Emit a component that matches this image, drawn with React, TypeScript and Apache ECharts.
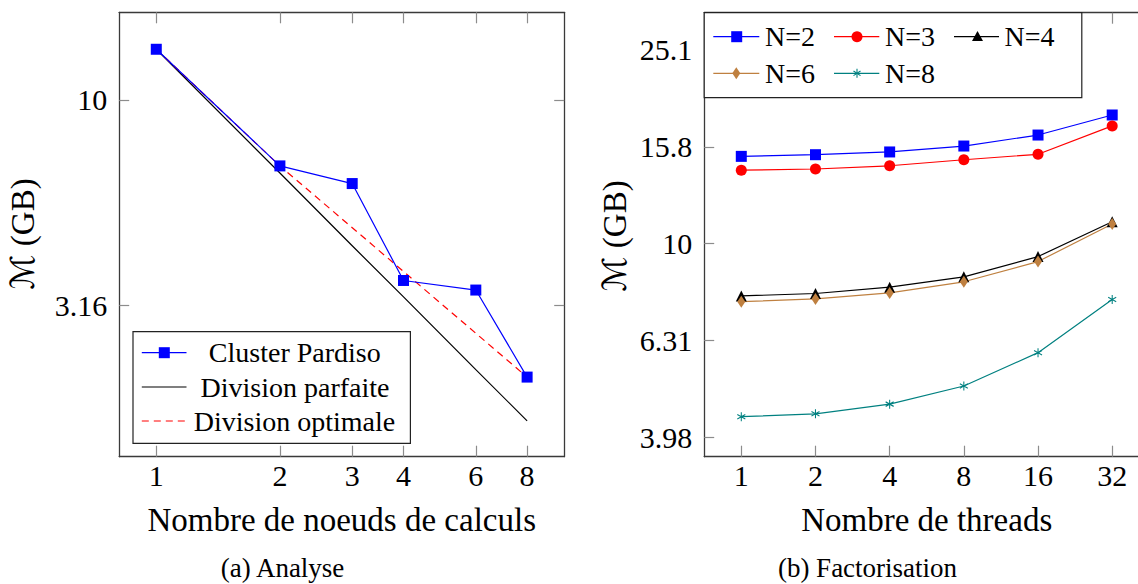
import React, { useEffect, useRef } from "react";
import * as echarts from "echarts";

// ---- Data: (a) Analyse ----
const nodes = [1, 2, 3, 4, 6, 8];
const clusterPardiso = [13.27, 6.91, 6.26, 3.64, 3.45, 2.12];
const divisionParfaite = [13.27, 6.64, 4.42, 3.32, 2.21, 1.66];
const optimaleNodes = [1, 2, 8];
const divisionOptimale = [13.27, 6.91, 2.12];
const leftYTicks = [3.16, 10];

// ---- Data: (b) Factorisation ----
const threads = [1, 2, 4, 8, 16, 32];
const seriesN2 = [15.11, 15.23, 15.43, 15.87, 16.72, 18.39];
const seriesN3 = [14.15, 14.23, 14.45, 14.87, 15.26, 17.46];
const seriesN4 = [7.79, 7.88, 8.12, 8.53, 9.39, 11.08];
const seriesN6 = [7.58, 7.68, 7.9, 8.33, 9.17, 10.96];
const seriesN8 = [4.39, 4.45, 4.66, 5.08, 5.95, 7.66];
const rightYTicks = [3.98, 6.31, 10, 15.8, 25.1];

const FONT = "'Liberation Serif', 'DejaVu Serif', 'DejaVu Sans', serif";
const AXIS_COLOR = "#3a3a3a";
const TICK_COLOR = "#8c8c8c";
const BLUE = "#0000ff";
const RED = "#ff0000";
const BLACK = "#000000";
const BROWN = "#bf8040";
const TEAL = "#008080";
const ASTERISK = "path://M0,-10L0,10M-8.66,-5L8.66,5M-8.66,5L8.66,-5";

const nearestLabel = (ticks: number[], v: number, f: (t: number) => number) => {
  let best = ticks[0];
  let d = Infinity;
  for (const t of ticks) {
    const dd = Math.abs(f(t) - v);
    if (dd < d) {
      d = dd;
      best = t;
    }
  }
  return String(best);
};

function makeAxes(
  gridIndex: number,
  xr: [number, number],
  yr: [number, number],
  xTicks: number[],
  yTicks: number[]
) {
  const xVals = xTicks.map(Math.log2);
  const yVals = yTicks.map(Math.log10);
  const common = {
    gridIndex,
    type: "value" as const,
    axisLine: { show: true, onZero: false, lineStyle: { color: AXIS_COLOR, width: 1.3 } },
    splitLine: { show: false },
  };
  const xAxes = [
    {
      ...common,
      position: "bottom",
      min: xr[0],
      max: xr[1],
      axisTick: { show: true, inside: true, length: 11, customValues: xVals, lineStyle: { color: TICK_COLOR, width: 1.2 } },
      axisLabel: {
        show: true,
        customValues: xVals,
        margin: 4,
        fontFamily: FONT,
        fontSize: 30,
        color: "#000",
        formatter: (v: number) => nearestLabel(xTicks, v, Math.log2),
      },
    },
    {
      ...common,
      position: "top",
      min: xr[0],
      max: xr[1],
      axisTick: { show: true, inside: true, length: 11, customValues: xVals, lineStyle: { color: TICK_COLOR, width: 1.2 } },
      axisLabel: { show: false, customValues: xVals },
    },
  ];
  const yAxes = [
    {
      ...common,
      position: "left",
      min: yr[0],
      max: yr[1],
      axisTick: { show: true, inside: true, length: 10, customValues: yVals, lineStyle: { color: TICK_COLOR, width: 1.2 } },
      axisLabel: {
        show: true,
        customValues: yVals,
        margin: 12,
        fontFamily: FONT,
        fontSize: 30,
        color: "#000",
        formatter: (v: number) => nearestLabel(yTicks, v, Math.log10),
      },
    },
    {
      ...common,
      position: "right",
      min: yr[0],
      max: yr[1],
      axisTick: { show: true, inside: true, length: 10, customValues: yVals, lineStyle: { color: TICK_COLOR, width: 1.2 } },
      axisLabel: { show: false, customValues: yVals },
    },
  ];
  return { xAxes, yAxes };
}

const toPts = (xs: number[], ys: number[]) => xs.map((x, i) => [Math.log2(x), Math.log10(ys[i])]);

export default function App() {
  const ref = useRef<HTMLDivElement>(null);

  useEffect(() => {
    if (!ref.current) return;
    const chart = echarts.init(ref.current, null, { renderer: "svg" });

    const L = makeAxes(0, [-0.3, 3.3], [0.1329, 1.2127], nodes, leftYTicks);
    const R = makeAxes(1, [-0.5, 5.5], [0.56, 1.4755], threads, rightYTicks);

    const lineSeries = (
      name: string,
      xi: number,
      yi: number,
      xs: number[],
      ys: number[],
      color: string,
      symbol: string,
      symbolSize: any,
      extra: any = {}
    ) => ({
      name,
      type: "line",
      xAxisIndex: xi,
      yAxisIndex: yi,
      data: toPts(xs, ys),
      symbol,
      symbolSize,
      showSymbol: symbol !== "none",
      clip: false,
      lineStyle: { color, width: 1.2, ...(extra.lineStyle || {}) },
      itemStyle: { color, ...(extra.itemStyle || {}) },
      z: extra.z ?? 3,
    });

    const legendLine = (x1: number, x2: number, y: number, color: string, dash?: number[]) => ({
      type: "line",
      z: 101,
      shape: { x1, y1: y, x2, y2: y },
      style: { stroke: color, lineWidth: 1.2, lineDash: dash || null },
    });

    const legendText = (text: string, x: number, y: number, align: string, size = 28) => ({
      type: "text",
      z: 101,
      x,
      y,
      style: { text, fontFamily: FONT, fontSize: size, fill: "#000", align, verticalAlign: "middle" },
    });

    const titleText = (text: string, x: number, y: number, size: number, rotation = 0) => ({
      type: "text",
      z: 50,
      x,
      y,
      rotation,
      style: { text, fontFamily: FONT, fontSize: size, fill: "#000", align: "center", verticalAlign: "middle" },
    });

    const graphic: any[] = [
      // ---- left legend ----
      {
        type: "rect",
        z: 100,
        shape: { x: 133, y: 331.7, width: 277.4, height: 111.6 },
        style: { fill: "#fff", stroke: "#222", lineWidth: 1.2 },
      },
      legendLine(141.8, 186.5, 352.7, BLUE),
      { type: "rect", z: 102, shape: { x: 158.8, y: 347.2, width: 11, height: 11 }, style: { fill: BLUE } },
      legendText("Cluster Pardiso", 294.8, 352.7, "center"),
      legendLine(141.8, 186.5, 387, BLACK),
      legendText("Division parfaite", 295, 387, "center"),
      legendLine(141.8, 186.5, 421, RED, [7, 5]),
      legendText("Division optimale", 294.5, 421, "center"),

      // ---- right legend ----
      {
        type: "rect",
        z: 100,
        shape: { x: 704.2, y: 12.7, width: 377.6, height: 85 },
        style: { fill: "#fff", stroke: "#222", lineWidth: 1.2 },
      },
      legendLine(713.3, 759.3, 36.7, BLUE),
      { type: "rect", z: 102, shape: { x: 731.2, y: 31.2, width: 11, height: 11 }, style: { fill: BLUE } },
      legendText("N=2", 765, 36.7, "left"),
      legendLine(834, 879.3, 36.7, RED),
      { type: "circle", z: 102, shape: { cx: 857, cy: 36.7, r: 5.5 }, style: { fill: RED } },
      legendText("N=3", 885, 36.7, "left"),
      legendLine(954, 999, 36.7, BLACK),
      {
        type: "polygon",
        z: 102,
        shape: { points: [[977.5, 31], [972, 41], [983, 41]] },
        style: { fill: BLACK },
      },
      legendText("N=4", 1004.6, 36.7, "left"),
      legendLine(713.3, 759.3, 73.3, BROWN),
      {
        type: "polygon",
        z: 102,
        shape: { points: [[736.3, 67.3], [740.3, 73.3], [736.3, 79.3], [732.3, 73.3]] },
        style: { fill: BROWN },
      },
      legendText("N=6", 765, 73.3, "left"),
      legendLine(834, 879.3, 73.3, TEAL),
      { type: "line", z: 102, shape: { x1: 857, y1: 68.8, x2: 857, y2: 77.8 }, style: { stroke: TEAL, lineWidth: 1.1 } },
      { type: "line", z: 102, shape: { x1: 853.5, y1: 71, x2: 860.5, y2: 75.6 }, style: { stroke: TEAL, lineWidth: 1.1 } },
      { type: "line", z: 102, shape: { x1: 853.5, y1: 75.6, x2: 860.5, y2: 71 }, style: { stroke: TEAL, lineWidth: 1.1 } },
      legendText("N=8", 885, 73.3, "left"),

      // ---- axis titles and captions ----
      titleText("ℳ (GB)", 23.3, 234, 33, Math.PI / 2),
      titleText("ℳ (GB)", 615, 236, 33, Math.PI / 2),
      titleText("Nombre de noeuds de calculs", 341.7, 520, 33),
      titleText("Nombre de threads", 926.7, 520, 33),
      titleText("(a) Analyse", 282.5, 568, 27),
      titleText("(b) Factorisation", 867.5, 568, 27),
    ];

    chart.setOption({
      animation: false,
      backgroundColor: "#ffffff",
      grid: [
        { left: 119.2, top: 12.3, width: 445, height: 444.4, outerBoundsMode: "none", containLabel: false },
        { left: 704.2, top: 12.7, width: 445.1, height: 444, outerBoundsMode: "none", containLabel: false },
      ],
      xAxis: [...L.xAxes, ...R.xAxes],
      yAxis: [...L.yAxes, ...R.yAxes],
      series: [
        lineSeries("Division parfaite", 0, 0, nodes, divisionParfaite, BLACK, "none", 0, { z: 2 }),
        lineSeries("Division optimale", 0, 0, optimaleNodes, divisionOptimale, RED, "none", 0, {
          lineStyle: { type: [7, 5] },
          z: 3,
        }),
        lineSeries("Cluster Pardiso", 0, 0, nodes, clusterPardiso, BLUE, "rect", 11, { z: 4 }),
        lineSeries("N=2", 2, 2, threads, seriesN2, BLUE, "rect", 11),
        lineSeries("N=3", 2, 2, threads, seriesN3, RED, "circle", 11),
        lineSeries("N=4", 2, 2, threads, seriesN4, BLACK, "triangle", 11),
        lineSeries("N=6", 2, 2, threads, seriesN6, BROWN, "diamond", [8, 12]),
        lineSeries("N=8", 2, 2, threads, seriesN8, TEAL, ASTERISK, [8, 9], {
          itemStyle: { borderColor: TEAL, borderWidth: 1.1 },
        }),
      ],
      graphic,
    });

    return () => chart.dispose();
  }, []);

  return (
    <div
      ref={ref}
      style={{
        position: "fixed",
        left: 0,
        top: 0,
        width: 1138,
        height: 584,
        overflow: "hidden",
        background: "#fff",
      }}
    />
  );
}
